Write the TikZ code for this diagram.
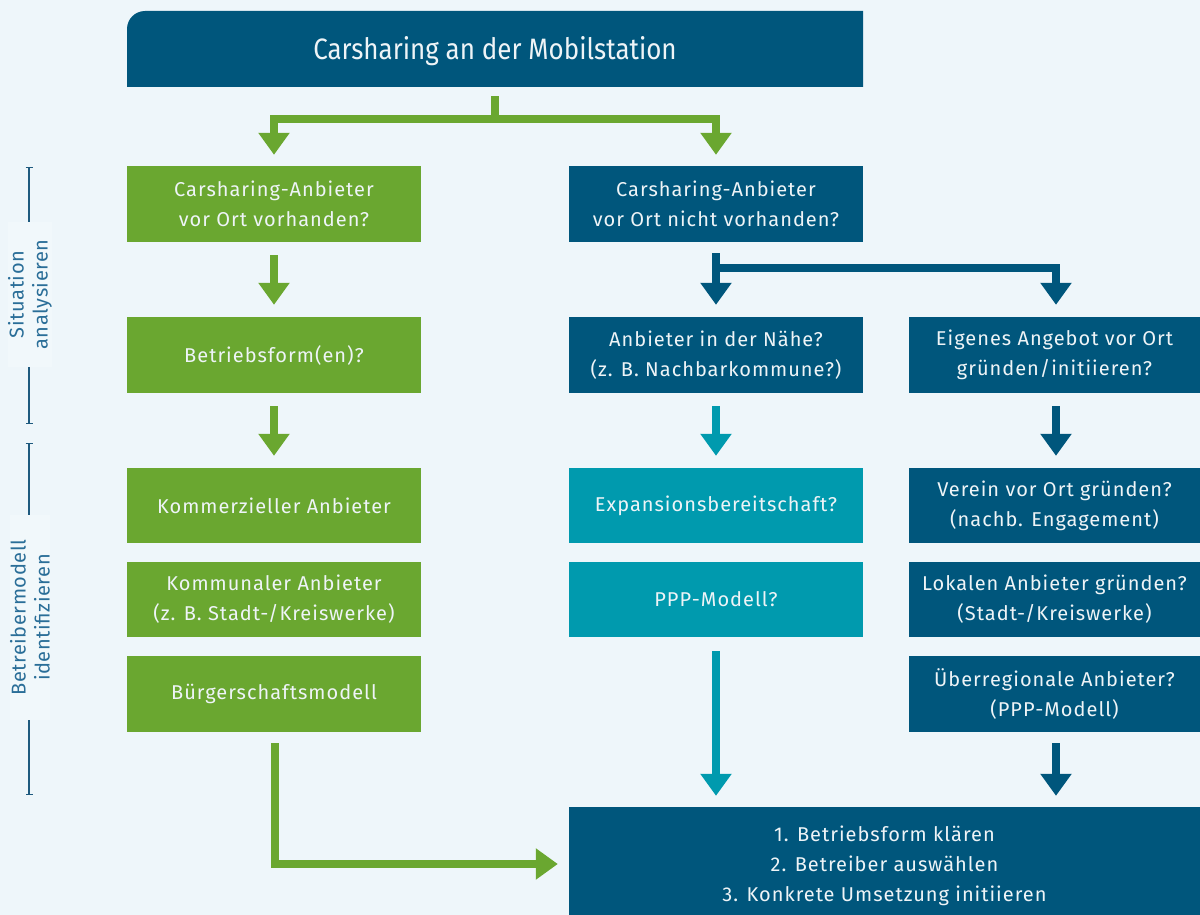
\documentclass[tikz,border=0pt]{standalone}
\usepackage{fontspec}
\setmainfont{Fira Sans}[LetterSpace=5]
\newfontfamily\titlefont[FakeStretch=0.88]{Fira Sans}
\newfontfamily\axisfont[LetterSpace=3]{Fira Sans}
\usetikzlibrary{arrows.meta,calc}
\definecolor{bg}{HTML}{EEF6FA}
\definecolor{labbg}{HTML}{F1F8FB}
\definecolor{cgreen}{HTML}{6AA730}
\definecolor{cblue}{HTML}{00567C}
\definecolor{cteal}{HTML}{009AAE}
\definecolor{boxtext}{HTML}{EEF4F7}
\definecolor{axistext}{HTML}{2A6E98}
\definecolor{axisline}{HTML}{1E5A7E}
\begin{document}
\begin{tikzpicture}[x=1pt,y=-1pt,
  box/.style={rectangle, inner sep=0pt, text=boxtext, align=center,
    font=\fontsize{20}{30}\selectfont, minimum height=76pt},
  gbox/.style={box, fill=cgreen, minimum width=294pt},
  mbox/.style={box, fill=cblue, minimum width=294pt},
  tbox/.style={box, fill=cteal, minimum width=294pt},
  rbox/.style={box, fill=cblue, minimum width=291pt},
  tip/.tip={Triangle[width=30pt,length=22pt]},
  flow/.style={line width=8pt, -tip},
  axislabel/.style={rotate=90, fill=labbg, text=axistext, align=center,
    font=\axisfont\fontsize{20}{24}\selectfont, minimum height=40pt, inner sep=0pt},
  axisl/.style={draw=axisline, line width=1.3pt, {Bar[width=7pt]}-}
]
\useasboundingbox (0,0) rectangle (1200,915);
\fill[bg] (0,0) rectangle (1200,915);

% title
\fill[cblue] (127,87) [rounded corners=18pt] -- (127,11) [sharp corners] -- (863,11) -- (863,87) -- cycle;
\node[inner sep=0pt, minimum width=736pt, minimum height=76pt, text=boxtext,
  font=\titlefont\fontsize{29.5}{30}\selectfont] (title) at (495,51.5) {Carsharing an der Mobilstation};

% left column
\node[gbox] (g1) at (274,204) {Carsharing-Anbieter\\vor Ort vorhanden?};
\node[gbox] (g2) at (274,355) {Betriebsform(en)?};
\node[gbox, minimum height=75pt] (g3) at (274,505.5) {Kommerzieller Anbieter};
\node[gbox, minimum height=75pt] (g4) at (274,599.5) {Kommunaler Anbieter\\(z. B. Stadt-/Kreiswerke)};
\node[gbox] (g5) at (274,694) {Bürgerschaftsmodell};

% middle column
\node[mbox] (m1) at (716,204) {Carsharing-Anbieter\\vor Ort nicht vorhanden?};
\node[mbox] (m2) at (716,355) {Anbieter in der Nähe?\\(z. B. Nachbarkommune?)};
\node[tbox, minimum height=75pt] (m3) at (716,505.5) {Expansionsbereitschaft?};
\node[tbox, minimum height=75pt] (m4) at (716,599.5) {PPP-Modell?};

% right column
\node[rbox] (r2) at (1054.5,355) {Eigenes Angebot vor Ort\\gründen/initiieren?};
\node[rbox, minimum height=75pt] (r3) at (1054.5,505.5) {Verein vor Ort gründen?\\(nachb. Engagement)};
\node[rbox, minimum height=75pt] (r4) at (1054.5,599.5) {Lokalen Anbieter gründen?\\(Stadt-/Kreiswerke)};
\node[rbox] (r5) at (1054.5,694) {Überregionale Anbieter?\\(PPP-Modell)};

% final
\node[box, fill=cblue, minimum width=631pt, minimum height=118pt] (fin) at (884.5,866)
  {1. Betriebsform klären\\2. Betreiber auswählen\\3. Konkrete Umsetzung initiieren};

% axis labels
\node[axislabel, minimum width=145pt] (lab1) at (30,294.5) {Situation\\analysieren};
\node[axislabel, minimum width=205pt] (lab2) at (30,617.5) {Betreibermodell\\identifizieren};
\coordinate (a1) at (29,167);
\coordinate (a2) at (29,424);
\coordinate (a3) at (29,443);
\coordinate (a4) at (29,795);
\draw[axisl] (a1) -- (a1 |- lab1.east);
\draw[axisl] (a2) -- (a2 |- lab1.west);
\draw[axisl] (a3) -- (a3 |- lab2.east);
\draw[axisl] (a4) -- (a4 |- lab2.west);

% connectors
\draw[cgreen, line width=8pt] ($(title.south)+(0,6.5)$) -- ($(title.south)+(0,30.5)$);
\draw[cgreen, line width=8pt, tip-tip] ($(g1.north)+(0,-11)$) |- ($(title.south)+(0,29.5)$) -| ($(m1.north)+(0,-11)$);
\draw[flow, cgreen] ($(g1.south)+(0,13)$) -- ($(g2.north)+(0,-12)$);
\draw[flow, cgreen] ($(g2.south)+(0,13)$) -- ($(g3.north)+(0,-12)$);
\draw[flow, cgreen] ($(g5.south)+(1,11)$) |- ($(fin.west)+(-11,-2)$);

\draw[flow, cblue] ($(m1.south)+(0,11)$) -- ($(m2.north)+(0,-12)$);
\draw[flow, cblue] ($(m1.south)+(0,26)$) -| ($(r2.north)+(1.5,-12)$);
\draw[flow, cteal] ($(m2.south)+(0,13)$) -- ($(m3.north)+(0,-12)$);
\draw[flow, cblue] ($(r2.south)+(1.5,13)$) -- ($(r3.north)+(1.5,-12)$);
\draw[flow, cteal] ($(m4.south)+(0,14)$) -- ($(fin.north -| m4.south)+(0,-11)$);
\draw[flow, cblue] ($(r5.south)+(1.5,11)$) -- ($(fin.north -| r5.south)+(1.5,-11)$);
\end{tikzpicture}
\end{document}
